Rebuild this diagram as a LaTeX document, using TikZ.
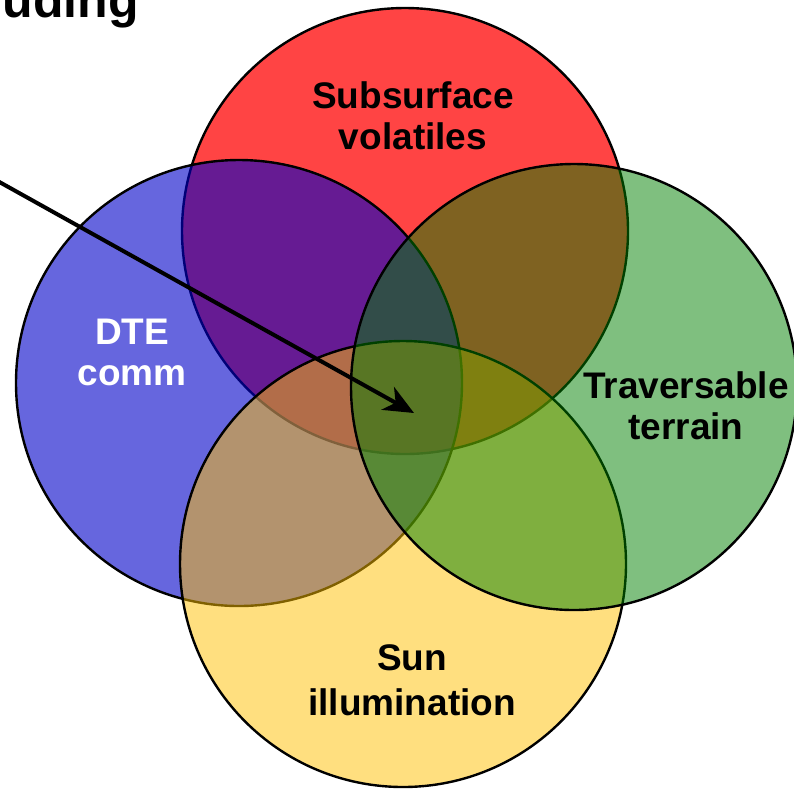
\documentclass[tikz,border=0pt]{standalone}
\usepackage{fontspec}
\setmainfont{Liberation Sans}
\usetikzlibrary{arrows.meta}
\definecolor{redc}{RGB}{255,68,68}
\definecolor{bluec}{RGB}{0,0,200}
\definecolor{yellowc}{RGB}{255,192,0}
\definecolor{greenc}{RGB}{0,128,0}
\begin{document}
\begin{tikzpicture}[x=1pt,y=-1pt,
  venn/.style={circle, draw=black, line width=2.4pt, minimum size=446pt, inner sep=0pt, outer sep=0pt},
  lbl/.style={font=\fontsize{37}{41}\selectfont\bfseries, align=center, inner sep=0pt},
  pointer/.style={line width=4pt, -{Stealth[length=30pt,width=26pt,inset=9pt]}}
]
\useasboundingbox (0,0) rectangle (794,788);
\clip (0,0) rectangle (794,788);
\node[venn, fill=redc] (red) at (405,231) {};
\node[venn, fill=bluec, fill opacity=0.6] (blue) at (239,383) {};
\node[venn, fill=yellowc, fill opacity=0.5] (yellow) at (403,564) {};
\node[venn, fill=greenc, fill opacity=0.5] (green) at (574,387) {};
\node[lbl] (sub) at (413,116) {Subsurface\\volatiles};
\node[lbl, text=white] (dte) at (132,352) {DTE\\comm};
\node[lbl] (trav) at (686,406) {Traversable\\terrain};
\node[lbl, font=\fontsize{37}{45}\selectfont\bfseries] (sun) at (412,680) {Sun\\illumination};
\node[anchor=base east, inner sep=0pt, font=\fontsize{50}{60}\selectfont\bfseries] (title) at (139,17) {uding};
\coordinate (arrowstart) at (-6,179);
\coordinate (arrowtip) at (414,413);
\draw[pointer] (arrowstart) -- (arrowtip);
\end{tikzpicture}
\end{document}
